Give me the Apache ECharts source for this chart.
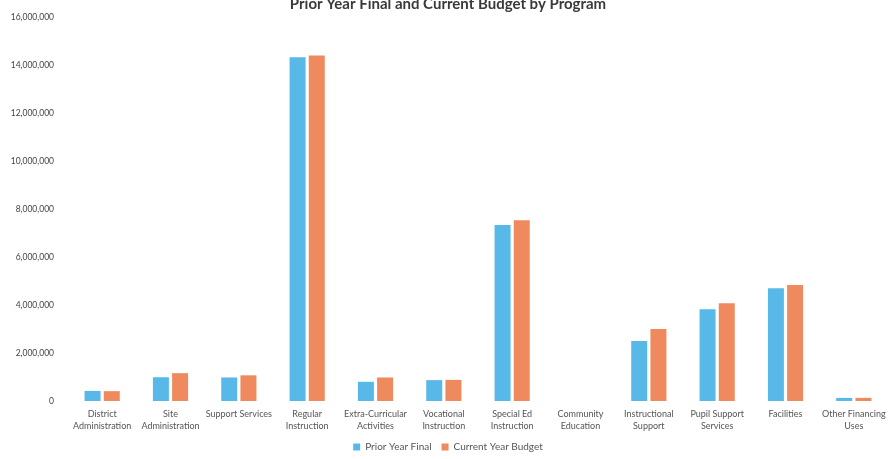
<!DOCTYPE html>
<html>
<head>
<meta charset="utf-8">
<script src="https://cdn.jsdelivr.net/npm/echarts@6/dist/echarts.min.js"></script>
<style>
  html, body { margin: 0; padding: 0; background: #fff; }
  #chart { width: 896px; height: 459px; }
</style>
</head>
<body>
<div id="chart"></div>
<script>
// Program budget comparison: prior year final vs. current year budget
const categories = [
  'District\nAdministration', 'Site\nAdministration', 'Support Services',
  'Regular\nInstruction', 'Extra-Curricular\nActivities', 'Vocational\nInstruction',
  'Special Ed\nInstruction', 'Community\nEducation', 'Instructional\nSupport',
  'Pupil Support\nServices', 'Facilities', 'Other Financing\nUses'
];
const priorYearFinal = [420000, 990000, 980000, 14320000, 800000, 870000, 7330000, 0, 2500000, 3820000, 4700000, 130000];
const currentYearBudget = [410000, 1160000, 1070000, 14400000, 980000, 880000, 7530000, 0, 3000000, 4070000, 4830000, 130000];
const seriesNames = ['Prior Year Final', 'Current Year Budget'];
const yTicks = { min: 0, max: 16000000, interval: 2000000 };

const FONT = 'Lato, "Open Sans", sans-serif';
const chart = echarts.init(document.getElementById('chart'));
chart.setOption({
  animation: false,
  backgroundColor: '#ffffff',
  title: {
    text: 'Prior Year Final and Current Budget by Program',
    left: 'center',
    top: -8,
    textStyle: { fontFamily: FONT, fontSize: 15, fontWeight: 'bold', color: '#3a3a3a' }
  },
  legend: {
    bottom: 2,
    left: 'center',
    itemWidth: 7,
    itemHeight: 7,
    itemGap: 10,
    icon: 'rect',
    textStyle: { fontFamily: FONT, fontSize: 10, color: '#555' },
    data: seriesNames
  },
  grid: { left: 68, right: 8, top: 17, bottom: 58, containLabel: false },
  xAxis: {
    type: 'category',
    data: categories,
    axisLine: { show: false },
    axisTick: { show: false },
    axisLabel: {
      interval: 0,
      margin: 7,
      fontFamily: FONT,
      fontSize: 9,
      lineHeight: 12,
      color: '#555'
    }
  },
  yAxis: {
    type: 'value',
    min: yTicks.min,
    max: yTicks.max,
    interval: yTicks.interval,
    axisLine: { show: false },
    axisTick: { show: false },
    splitLine: { show: false },
    axisLabel: {
      margin: 14,
      fontFamily: FONT,
      fontSize: 8.5,
      color: '#444',
      formatter: v => v.toLocaleString('en-US')
    }
  },
  series: [
    {
      name: seriesNames[0],
      type: 'bar',
      data: priorYearFinal,
      barWidth: 16,
      barGap: '20%',
      itemStyle: { color: '#58b8e8' }
    },
    {
      name: seriesNames[1],
      type: 'bar',
      data: currentYearBudget,
      barWidth: 16,
      itemStyle: { color: '#ef8a5e' }
    }
  ]
});
</script>
</body>
</html>
